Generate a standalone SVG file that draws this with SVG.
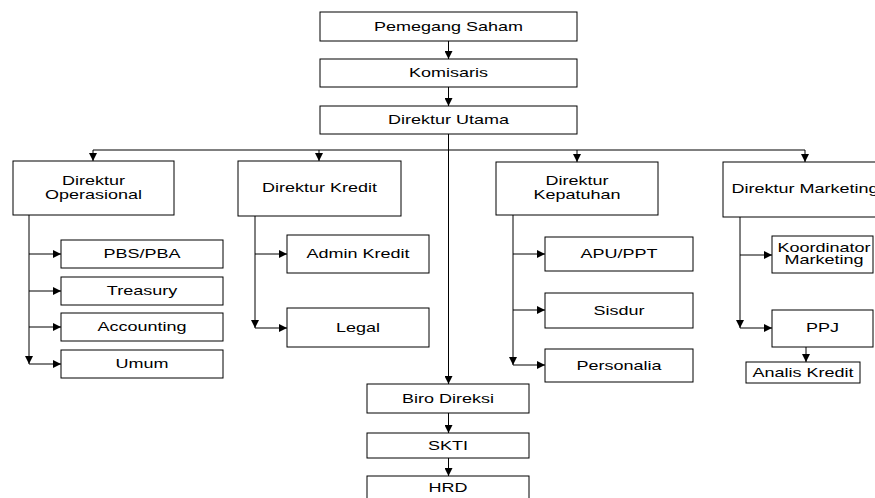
<svg xmlns="http://www.w3.org/2000/svg" width="875" height="498" viewBox="0 0 875 498">
<style>
.box{fill:#fff;stroke:#000;stroke-width:1}
.ln{fill:none;stroke:#000;stroke-width:1}
.arr{fill:none;stroke:#000;stroke-width:1;marker-end:url(#ah)}
text{font-family:"Liberation Sans",Arial,sans-serif;font-size:12px;fill:#000;text-anchor:middle}
</style>
<defs>
<marker id="ah" viewBox="0 0 10 10" refX="10" refY="5" markerUnits="userSpaceOnUse" markerWidth="9" markerHeight="8" orient="auto">
<path d="M0,0 L10,5 L0,10 z" fill="#000"/>
</marker>
</defs>
<rect width="875" height="498" fill="#fff"/>
<g id="connectors">
<path class="arr" d="M448.5,41 V59"/>
<path class="arr" d="M448.5,87 V106"/>
<path class="arr" d="M448.5,134 V384"/>
<path class="ln" d="M93,150 H805"/>
<path class="arr" d="M93,150 V161"/>
<path class="arr" d="M319,150 V161"/>
<path class="arr" d="M577,150 V162"/>
<path class="arr" d="M805,150 V162"/>
<path class="arr" d="M29,215 V364"/>
<path class="arr" d="M29,254 H61"/>
<path class="arr" d="M29,291 H61"/>
<path class="arr" d="M29,327 H61"/>
<path class="arr" d="M29,364 H61"/>
<path class="arr" d="M255,216 V328"/>
<path class="arr" d="M255,254 H287"/>
<path class="arr" d="M255,328 H287"/>
<path class="arr" d="M513,215 V365"/>
<path class="arr" d="M513,254 H545"/>
<path class="arr" d="M513,310 H545"/>
<path class="arr" d="M513,365 H545"/>
<path class="arr" d="M740,217 V328"/>
<path class="arr" d="M740,255 H772"/>
<path class="arr" d="M740,328 H772"/>
<path class="arr" d="M806,347 V362"/>
<path class="arr" d="M448.5,413 V433"/>
<path class="arr" d="M448.5,458 V476"/>
</g>
<g id="pemegang-saham"><rect class="box" x="320" y="12" width="257" height="29"/><text transform="translate(448.5,30.5) scale(1.5,1)">Pemegang Saham</text></g>
<g id="komisaris"><rect class="box" x="320" y="59" width="257" height="28"/><text transform="translate(448.5,77) scale(1.5,1)">Komisaris</text></g>
<g id="direktur-utama"><rect class="box" x="320" y="106" width="257" height="28"/><text transform="translate(448.5,124) scale(1.5,1)">Direktur Utama</text></g>
<g id="direktur-operasional"><rect class="box" x="13" y="161" width="161" height="54"/><text transform="translate(93.5,185) scale(1.5,1)">Direktur</text><text transform="translate(93.5,199) scale(1.5,1)">Operasional</text></g>
<g id="direktur-kredit"><rect class="box" x="238" y="161" width="163" height="55"/><text transform="translate(319.5,192) scale(1.5,1)">Direktur Kredit</text></g>
<g id="direktur-kepatuhan"><rect class="box" x="496" y="162" width="162" height="53"/><text transform="translate(577,185) scale(1.5,1)">Direktur</text><text transform="translate(577,199) scale(1.5,1)">Kepatuhan</text></g>
<g id="direktur-marketing"><rect class="box" x="723" y="162" width="170" height="55"/><text transform="translate(805,193) scale(1.5,1)">Direktur Marketing</text></g>
<g id="pbs-pba"><rect class="box" x="61" y="240" width="162" height="28"/><text transform="translate(142,258) scale(1.5,1)">PBS/PBA</text></g>
<g id="treasury"><rect class="box" x="61" y="277" width="162" height="28"/><text transform="translate(142,295) scale(1.5,1)">Treasury</text></g>
<g id="accounting"><rect class="box" x="61" y="313" width="162" height="28"/><text transform="translate(142,331) scale(1.5,1)">Accounting</text></g>
<g id="umum"><rect class="box" x="61" y="350" width="162" height="28"/><text transform="translate(142,368) scale(1.5,1)">Umum</text></g>
<g id="admin-kredit"><rect class="box" x="287" y="235" width="142" height="38"/><text transform="translate(358,258) scale(1.5,1)">Admin Kredit</text></g>
<g id="legal"><rect class="box" x="287" y="308" width="142" height="39"/><text transform="translate(358,331.5) scale(1.5,1)">Legal</text></g>
<g id="apu-ppt"><rect class="box" x="545" y="237" width="148" height="34"/><text transform="translate(619,258) scale(1.5,1)">APU/PPT</text></g>
<g id="sisdur"><rect class="box" x="545" y="293" width="148" height="35"/><text transform="translate(619,314.5) scale(1.5,1)">Sisdur</text></g>
<g id="personalia"><rect class="box" x="545" y="349" width="148" height="33"/><text transform="translate(619,369.5) scale(1.5,1)">Personalia</text></g>
<g id="koordinator-marketing"><rect class="box" x="772" y="236" width="101" height="37"/><text transform="translate(824,252) scale(1.5,1)">Koordinator</text><text transform="translate(824,264) scale(1.5,1)">Marketing</text></g>
<g id="ppj"><rect class="box" x="772" y="310" width="101" height="37"/><text transform="translate(822.5,332) scale(1.5,1)">PPJ</text></g>
<g id="analis-kredit"><rect class="box" x="746" y="362" width="114" height="21"/><text transform="translate(803,376.5) scale(1.5,1)">Analis Kredit</text></g>
<g id="biro-direksi"><rect class="box" x="367" y="384" width="162" height="29"/><text transform="translate(448,402.5) scale(1.5,1)">Biro Direksi</text></g>
<g id="skti"><rect class="box" x="367" y="433" width="162" height="25"/><text transform="translate(448,449.5) scale(1.5,1)">SKTI</text></g>
<g id="hrd"><rect class="box" x="367" y="476" width="162" height="34"/><text transform="translate(448,492) scale(1.5,1)">HRD</text></g>
</svg>
